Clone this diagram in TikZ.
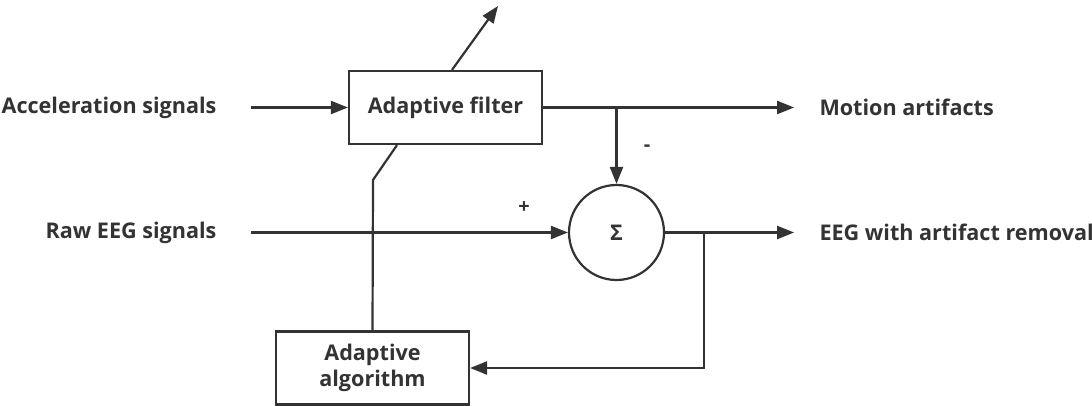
\documentclass[tikz,border=0pt]{standalone}
\usepackage{fontspec}
\setmainfont{Open Sans}
\usetikzlibrary{arrows.meta,positioning}
\definecolor{ink}{HTML}{333333}

\begin{document}
\begin{tikzpicture}[
  x=0.5pt, y=-0.5pt,
  font=\bfseries\fontsize{10.8}{12.8}\selectfont,
  block/.style={draw=ink, line width=1.1pt, minimum width=96.5pt, minimum height=36.5pt, align=center, inner sep=0pt, text=ink},
  sumnode/.style={circle, draw=ink, line width=1.1pt, minimum size=47.5pt, inner sep=0pt, text=ink},
  signal/.style={inner sep=0pt, text=ink},
  sign/.style={inner sep=0pt, text=ink, font=\bfseries\fontsize{10}{11}\selectfont},
  arrow/.style={-{Triangle[length=8.5pt,width=6.5pt]}, line width=1.1pt, draw=ink},
  wire/.style={line width=1.1pt, draw=ink}
]
  \useasboundingbox (0,0) rectangle (1092,406);

  \node[block] (filter) at (445.5,107.5) {Adaptive filter};
  \node[sumnode] (sum) at (616.5,232.5) {Σ};
  \node[block] (algo) at (372.5,368) {Adaptive\\algorithm};

  \node[signal, left=65.5pt of filter] (accel) {Acceleration signals};
  \node[signal, anchor=east] (raw) at (accel.east |- sum) {Raw EEG signals};
  \node[signal, right=138pt of filter] (motion) {Motion artifacts};
  \node[signal, anchor=west] (clean) at (motion.west |- sum) {EEG with artifact removal};

  \node[sign] (plus) at (524,208) {+};
  \node[sign] (minus) at (647,148) {-};

  \coordinate (tap) at (filter.east -| sum);
  \coordinate (fb) at (704,232.5);
  \coordinate (tune) at (498,6);
  \coordinate (bend) at (373,180);

  \draw[arrow, shorten <=17pt] (accel.east) -- (filter.west);
  \draw[arrow, shorten <=17pt] (raw.east) -- (sum.west);
  \draw[arrow, shorten >=12.5pt] (filter.east) -- (motion.west);
  \draw[arrow, shorten >=12.5pt] (sum.east) -- (clean.west);
  \draw[arrow] (tap) -- (sum.north);
  \draw[arrow] (fb) |- (algo.east);
  \draw[arrow] ([xshift=3.25pt]filter.north) -- (tune);
  \draw[wire] ([xshift=-24.25pt]filter.south) -- (bend) -- (algo.north);
\end{tikzpicture}
\end{document}
